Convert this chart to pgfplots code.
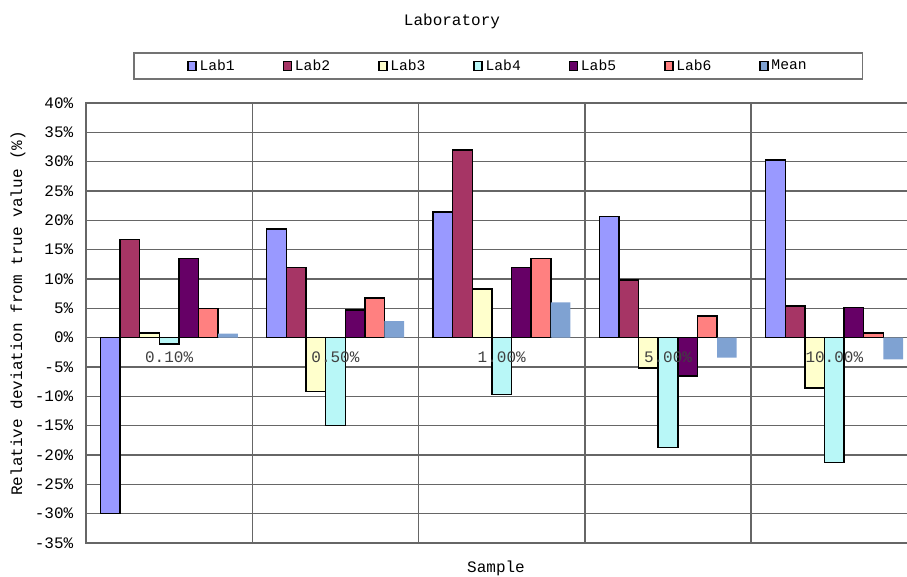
\documentclass[border=0pt]{standalone}
\usepackage{fontspec}
\setmainfont{Liberation Mono}
\usepackage{pgfplots}
\usepackage{pgfplotstable}
\pgfplotsset{compat=1.18}

\definecolor{labA}{HTML}{9999FF}
\definecolor{labB}{HTML}{A63565}
\definecolor{labC}{HTML}{FFFFCC}
\definecolor{labD}{HTML}{B8F7F7}
\definecolor{labE}{HTML}{660066}
\definecolor{labF}{HTML}{FF8080}
\definecolor{labM}{HTML}{7FA2D2}
\definecolor{gridgray}{HTML}{666666}

% relative deviation (%) per sample level
\pgfplotstableread{
x  lab1  lab2  lab3  lab4   lab5  lab6  mean
0 -30.0  16.7   0.8  -1.1   13.5   5.0   0.7
1  18.5  12.0  -9.2 -15.0    4.7   6.8   2.8
2  21.4  32.0   8.3  -9.7   12.0  13.5   6.0
3  20.7   9.8  -5.2 -18.7   -6.5   3.7  -3.4
4  30.3   5.4  -8.6 -21.3    5.1   0.8  -3.7
}\devdata

\pgfplotsset{
  sqlegend/.style={legend image code/.code={\draw[##1] (0pt,-3.5pt) rectangle (6pt,3.5pt);}},
  labbar/.style={fill=#1, draw=black, line width=1.1pt, sqlegend},
}
\tikzset{catlabel/.style={font=\fontsize{12}{14}\selectfont, text=black!75, yshift=-15pt}}

\begin{document}
\begin{tikzpicture}
\useasboundingbox (0,0) rectangle (680.25pt,432pt);
\begin{axis}[
  at={(64.5pt,24.75pt)}, anchor=south west,
  scale only axis, width=623.6pt, height=330pt,
  xmin=-0.5, xmax=4.5, ymin=-35, ymax=40,
  ytick={-35,-30,...,40},
  yticklabel={\pgfmathprintnumber{\tick}\%},
  /pgf/number format/assume math mode=true,
  yticklabel style={font=\fontsize{12}{14}\selectfont, xshift=-6pt},
  xtick={0.5,1.5,2.5,3.5}, xticklabels={},
  xmajorgrids, ymajorgrids,
  major tick length=0pt,
  grid style={line width=1.1pt, color=gridgray},
  axis line style={line width=1.1pt, color=gridgray},
  ybar, bar width=0.118,
  legend columns=7,
  legend style={at={(0.496,1.084)}, anchor=center,
    draw=black!55, line width=1pt,
    font=\fontsize{11}{13}\selectfont,
    inner xsep=40pt, inner ysep=3pt,
    /tikz/every even column/.append style={column sep=34pt}},
]
\addplot[labbar=labA, bar shift=-0.354] table[x=x, y=lab1] {\devdata};
\addplot[labbar=labB, bar shift=-0.236] table[x=x, y=lab2] {\devdata};
\addplot[labbar=labC, bar shift=-0.118] table[x=x, y=lab3] {\devdata};
\addplot[labbar=labD, bar shift=0]      table[x=x, y=lab4] {\devdata};
\addplot[labbar=labE, bar shift=0.118]  table[x=x, y=lab5] {\devdata};
\addplot[labbar=labF, bar shift=0.236]  table[x=x, y=lab6] {\devdata};
\addplot[fill=labM, draw=none, sqlegend, bar shift=0.354] table[x=x, y=mean] {\devdata};
\legend{Lab1,Lab2,Lab3,Lab4,Lab5,Lab6,Mean}

% sample labels sit just under the zero line
\node[catlabel] at (axis cs:0,0) {0.10\%};
\node[catlabel] at (axis cs:1,0) {0.50\%};
\node[catlabel] at (axis cs:2,0) {1.00\%};
\node[catlabel] at (axis cs:3,0) {5.00\%};
\node[catlabel] at (axis cs:4,0) {10.00\%};
\end{axis}
\node[font=\fontsize{12}{14}\selectfont] at (339pt,416pt) {Laboratory};
\node[font=\fontsize{12}{14}\selectfont] at (372pt,6pt) {Sample};
\node[font=\fontsize{12}{14}\selectfont, rotate=90] at (13.5pt,197pt) {Relative deviation from true value (\%)};
\end{tikzpicture}
\end{document}
